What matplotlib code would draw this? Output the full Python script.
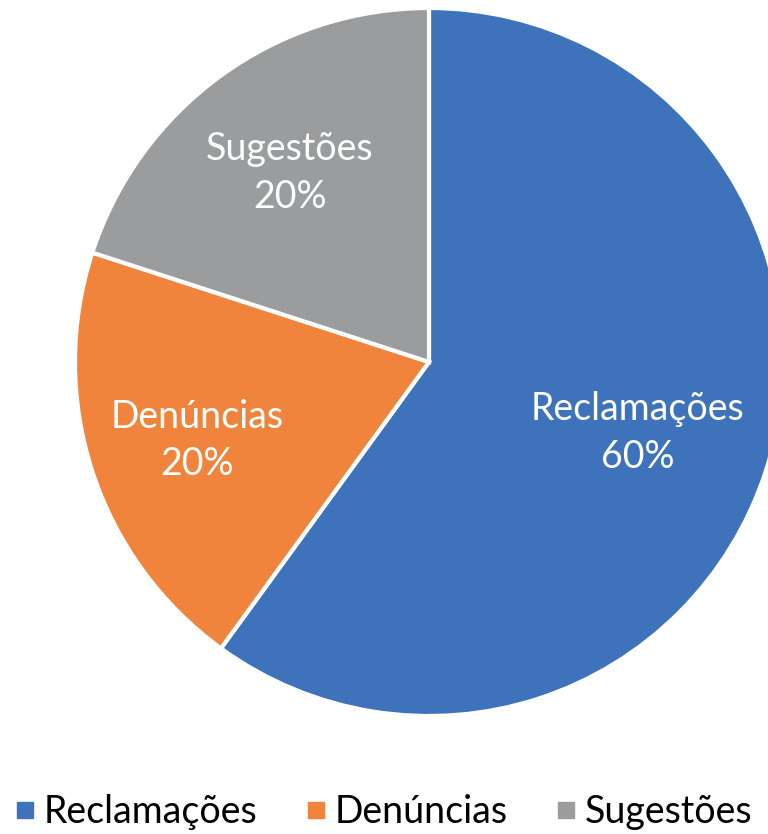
import numpy as np
import matplotlib
matplotlib.use("Agg")
import matplotlib.pyplot as plt
from matplotlib.lines import Line2D

categories = ["Reclamações", "Denúncias", "Sugestões"]
values = [60, 20, 20]
colors = ["#3E73BB", "#F0843C", "#9A9C9D"]
label_dist = [0.62, 0.69, 0.67]

plt.rcParams['font.family'] = ['Lato', 'DejaVu Sans']

fig = plt.figure(figsize=(7.68, 8.34), dpi=100)
ax = fig.add_axes([0, 0, 1, 1])

cx, cy, r = 429, 834 - 362, 354
wedges, _ = ax.pie(values, colors=colors, startangle=90, counterclock=False,
                   center=(cx, cy), radius=r, frame=True,
                   wedgeprops=dict(edgecolor='white', linewidth=3))
ax.set_xlim(0, 768)
ax.set_ylim(0, 834)
ax.set_aspect('equal')
ax.axis('off')

total = sum(values)
for w, cat, v, d in zip(wedges, categories, values, label_dist):
    ang = np.deg2rad((w.theta1 + w.theta2) / 2)
    x = cx + d * r * np.cos(ang)
    y = cy + d * r * np.sin(ang)
    ax.text(x, y - 3, f"{cat}\n{v/total*100:.0f}%", ha='center', va='center',
            color='white', fontsize=27, linespacing=1.4)

handles = [Line2D([0], [0], marker='s', linestyle='', markersize=11,
                  markerfacecolor=c, markeredgecolor=c) for c in colors]
fig.legend(handles, categories, loc='center', ncol=3, frameon=False,
           fontsize=27, handletextpad=0.25, columnspacing=1.3,
           bbox_to_anchor=(0.5, 1 - 812 / 834), handlelength=0.5,
           borderpad=0, borderaxespad=0)

fig.savefig("out.png", dpi=100)
